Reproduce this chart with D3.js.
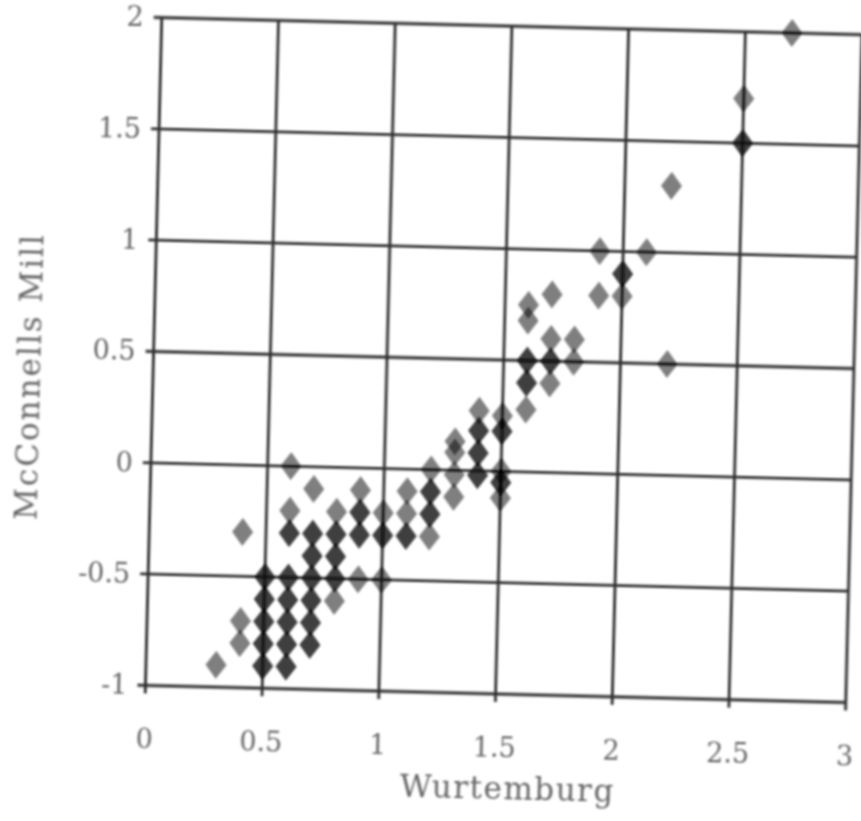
<!DOCTYPE html>
<html>
<head>
<meta charset="utf-8">
<title>McConnells Mill vs Wurtemburg</title>
<script src="https://d3js.org/d3.v7.min.js"></script>
<style>
  body { margin: 0; background: #fff; }
  text { font-family: "DejaVu Serif", "Liberation Serif", serif; fill: #666; }
</style>
</head>
<body>
<div id="chart"></div>
<script>
// values (repeated pairs = stacked points, drawn darker)
var xVals = [0.3,
  0.4, 0.4, 0.4,
  0.5, 0.5, 0.5, 0.5, 0.5,
  0.6, 0.6, 0.6, 0.6, 0.6, 0.6, 0.6, 0.6,
  0.7, 0.7, 0.7, 0.7, 0.7, 0.7, 0.7,
  0.8, 0.8, 0.8, 0.8, 0.8,
  0.9, 0.9, 0.9, 0.9,
  1.0, 1.0, 1.0,
  1.1, 1.1, 1.1,
  1.2, 1.2, 1.2, 1.2,
  1.3, 1.3, 1.3, 1.3,
  1.4, 1.4, 1.4, 1.4,
  1.5, 1.5, 1.5, 1.5, 1.5,
  1.6, 1.6, 1.6, 1.6, 1.6,
  1.7, 1.7, 1.7, 1.7,
  1.8, 1.8,
  1.9, 1.9,
  2.0, 2.0,
  2.1,
  2.2, 2.2,
  2.5, 2.5,
  2.7,
  // stacked repeats
  0.5, 0.5, 0.5, 0.5, 0.5,
  0.6, 0.6, 0.6, 0.6, 0.6, 0.6,
  0.7, 0.7, 0.7, 0.7, 0.7, 0.7,
  0.8, 0.8, 0.8,
  0.9, 0.9,
  1.0, 1.1, 1.2, 1.2,
  1.4, 1.4, 1.4,
  1.5, 1.5,
  1.6, 1.6, 1.7,
  2.0, 2.5];
var yVals = [-0.9,
  -0.3, -0.7, -0.8,
  -0.5, -0.6, -0.7, -0.8, -0.9,
  0, -0.2, -0.3, -0.5, -0.6, -0.7, -0.8, -0.9,
  -0.1, -0.3, -0.4, -0.5, -0.6, -0.7, -0.8,
  -0.2, -0.3, -0.4, -0.5, -0.6,
  -0.1, -0.2, -0.3, -0.5,
  -0.2, -0.3, -0.5,
  -0.1, -0.2, -0.3,
  0, -0.1, -0.2, -0.3,
  0.13, 0.08, -0.02, -0.12,
  0.27, 0.18, 0.08, -0.02,
  0.25, 0.18, 0.0, -0.05, -0.12,
  0.75, 0.68, 0.5, 0.4, 0.28,
  0.8, 0.6, 0.5, 0.4,
  0.6, 0.5,
  1.0, 0.8,
  0.9, 0.8,
  1.0,
  0.5, 1.3,
  1.7, 1.5,
  2.0,
  // stacked repeats
  -0.5, -0.6, -0.7, -0.8, -0.9,
  -0.3, -0.5, -0.6, -0.7, -0.8, -0.9,
  -0.3, -0.4, -0.5, -0.6, -0.7, -0.8,
  -0.3, -0.4, -0.5,
  -0.2, -0.3,
  -0.3, -0.3, -0.1, -0.2,
  0.18, 0.08, -0.02,
  0.18, -0.05,
  0.5, 0.4, 0.5,
  0.9, 1.5];
var xTicks = [0, 0.5, 1, 1.5, 2, 2.5, 3];
var yTicks = [-1, -0.5, 0, 0.5, 1, 1.5, 2];

var W = 861, H = 821;
var margin = {top: 26, right: 7, bottom: 127, left: 153.5};
var width = W - margin.left - margin.right,
    height = H - margin.top - margin.bottom;

var svg = d3.select("#chart").append("svg")
  .attr("width", W).attr("height", H);

// slight blur to mimic the scan
var defs = svg.append("defs");
defs.append("filter").attr("id", "soft")
  .append("feGaussianBlur").attr("stdDeviation", 0.9);

// the scan is tilted a little clockwise
var root = svg.append("g")
  .attr("transform", "rotate(1.4, 502, 360)")
  .attr("filter", "url(#soft)");

var g = root.append("g")
  .attr("transform", "translate(" + margin.left + "," + margin.top + ")");

var x = d3.scaleLinear().domain([0, 3]).range([0, width]);
var y = d3.scaleLinear().domain([-1, 2]).range([height, 0]);

// grid
g.selectAll(".vgrid").data(xTicks).enter().append("line")
  .attr("x1", function(d) { return x(d); })
  .attr("x2", function(d) { return x(d); })
  .attr("y1", 0).attr("y2", height + 8)
  .attr("stroke", "#2e2e2e").attr("stroke-width", 2.8);
g.selectAll(".hgrid").data(yTicks).enter().append("line")
  .attr("y1", function(d) { return y(d); })
  .attr("y2", function(d) { return y(d); })
  .attr("x1", -8).attr("x2", width)
  .attr("stroke", "#2e2e2e").attr("stroke-width", 2.8);

// tick labels
g.selectAll(".xlab").data(xTicks).enter().append("text")
  .attr("x", function(d) { return x(d); })
  .attr("y", height + 63)
  .attr("text-anchor", "middle")
  .style("font-size", "27px")
  .text(function(d) { return d; });
g.selectAll(".ylab").data(yTicks).enter().append("text")
  .attr("x", -18)
  .attr("y", function(d) { return y(d); })
  .attr("dy", "0.35em")
  .attr("text-anchor", "end")
  .style("font-size", "27px")
  .text(function(d) { return d; });

// axis titles
g.append("text")
  .attr("x", width / 2 + 14)
  .attr("y", height + 105)
  .attr("text-anchor", "middle")
  .style("font-size", "31px")
  .style("letter-spacing", "1.5px")
  .text("Wurtemburg");
g.append("text")
  .attr("transform", "translate(-113," + (height / 2 + 28) + ") rotate(-90)")
  .attr("text-anchor", "middle")
  .style("font-size", "31px")
  .style("letter-spacing", "2px")
  .text("McConnells  Mill");

// diamonds
var pts = xVals.map(function(v, i) { return {x: v, y: yVals[i]}; });
var dw = 10.5, dh = 14;
g.selectAll(".pt").data(pts).enter().append("path")
  .attr("d", "M0," + (-dh) + "L" + dw + ",0L0," + dh + "L" + (-dw) + ",0Z")
  .attr("transform", function(d) { return "translate(" + x(d.x) + "," + y(d.y) + ")"; })
  .attr("fill", "#000")
  .attr("fill-opacity", 0.5);
</script>
</body>
</html>
